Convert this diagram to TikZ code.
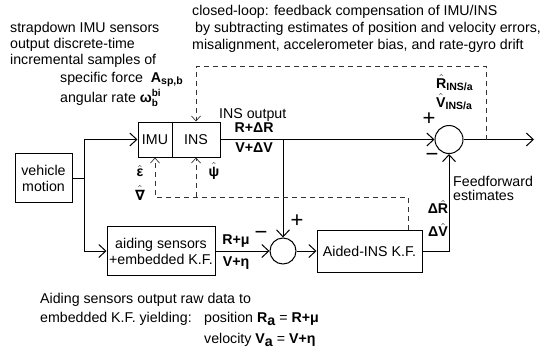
\documentclass[tikz,border=0pt]{standalone}
\usepackage{amsmath}
\usepackage{fontspec}
\setmainfont{Liberation Sans}
\newfontfamily\dvs{DejaVu Sans}
\usetikzlibrary{arrows.meta}
\newcommand\bh[1]{$\hat{\text{\bfseries #1}}$}
\newcommand\bsub[2]{\textbf{#1}\textsubscript{\bfseries\fontsize{10.5}{10.5}\selectfont #2}}
\begin{document}
\begin{tikzpicture}[x=1pt,y=-1pt,
  every node/.style={font=\fontsize{14.2}{16}\selectfont, inner sep=0pt},
  blk/.style={draw, line width=1pt, align=center},
  sum/.style={draw, circle, line width=1pt, inner sep=0pt},
  arr/.style={line width=1pt, -{Straight Barb[length=7pt,width=13pt]}},
  ln/.style={line width=1pt},
  darr/.style={line width=0.7pt, dash pattern=on 5pt off 4pt, draw=black!80, -{Straight Barb[length=5pt,width=9pt]}},
  sgn/.style={font=\fontsize{22}{22}\selectfont}]
\useasboundingbox[fill=white] (0,0) rectangle (548,351);

% blocks
\node[blk, minimum width=57pt, minimum height=49pt] (veh) at (43.5,178) {vehicle\\motion};
\node[blk, minimum width=34pt, minimum height=35pt] (IMU) at (155,139.5) {IMU};
\node[blk, minimum width=48pt, minimum height=35pt] (INS) at (196,139.5) {INS};
\node[blk, minimum width=108pt, minimum height=49pt] (aid) at (161,251) {aiding sensors\\+embedded K.F.};
\node[blk, minimum width=105pt, minimum height=42pt] (kf) at (369.5,251) {Aided-INS K.F.};
\node[sum, minimum size=26pt] (s1) at (283,251) {};
\node[sum, minimum size=28pt] (s2) at (449,139.5) {};

% coordinates
\coordinate (j) at (84,178);
\coordinate (out) at (534,139.5);
\coordinate (t1) at (283,139.5);
\coordinate (t2) at (486,139.5);
\coordinate (fbTR) at (486,66);
\coordinate (fb1) at (408,197);

% solid connectors
\draw[ln] (veh.east) -- (j);
\draw[arr] (j) |- (IMU.west);
\draw[arr] (j) |- (aid.west);
\draw[arr] (INS.east) -- (s2.west);
\draw[arr] (s2.east) -- (out);
\draw[arr] (t1) -- (s1.north);
\draw[arr] (aid.east) -- (s1.west);
\draw[arr] (s1.east) -- (kf.west);
\draw[arr] (kf.east) -| (s2.south);

% dashed feedback
\draw[darr] (t2) -- (fbTR) -| (INS.north);
\draw[darr] (fb1 |- kf.north) -- (fb1) -| (IMU.south);
\draw[darr] (fb1 -| INS.south) -- (INS.south);

% signs
\node[sgn] (p1) at (297,221) {+};
\node[sgn] (m1) at (261,235) {−};
\node[sgn] (p2) at (429,119) {+};
\node[sgn] (m2) at (432,157) {−};

% labels
\node[anchor=base west] (c1) at (192,15) {closed-loop: feedback compensation of IMU/INS};
\node[anchor=base west] (c2) at (195,32) {by subtracting estimates of position and velocity errors,};
\node[anchor=base west] (c3) at (192,49) {misalignment, accelerometer bias, and rate-gyro drift};

\node[anchor=base west] (a1) at (10,32) {strapdown IMU sensors};
\node[anchor=base west] (a2) at (10,48) {output discrete-time};
\node[anchor=base west] (a3) at (10,64) {incremental samples of};
\node[anchor=base west] (a4) at (60,82) {specific force\ \ \bsub{A}{sp,b}};
\node[anchor=base west] (a5) at (60,102) {angular rate $\text{\bfseries ω}_{\text{\bfseries b}}^{\text{\bfseries bi}}$};

\node[anchor=base west] (io) at (219,118) {INS output};
\node (l1) at (254,128) {\textbf{R+ΔR}};
\node (l2) at (254,148) {\textbf{V+ΔV}};
\node (l3) at (236,241) {\textbf{R+μ}};
\node (l4) at (236,263) {\textbf{V+η}};
\node (l5) at (140,171) {\bh{ε}};
\node (l6) at (140,193) {$\hat{\text{\dvs\bfseries ∇}}$};
\node (l7) at (214,171) {\bh{ψ}};
\node (l8) at (438,207) {\textbf{Δ}\bh{R}};
\node (l9) at (438,230) {\textbf{Δ}\bh{V}};
\node[anchor=base west] (l10) at (436,88) {\bh{R}\textsubscript{\bfseries\fontsize{10.5}{10.5}\selectfont INS/a}};
\node[anchor=base west] (l11) at (436,107) {\bh{V}\textsubscript{\bfseries\fontsize{10.5}{10.5}\selectfont INS/a}};
\node[anchor=base west] (ff1) at (453,186) {Feedforward};
\node[anchor=base west] (ff2) at (453,200) {estimates};

\node[anchor=base west] (b1) at (40,303) {Aiding sensors output raw data to};
\node[anchor=base west] (b2) at (40,322) {embedded K.F. yielding:};
\node[anchor=base west] (b3) at (204,322) {position \textbf{R}\raisebox{-3pt}{\textbf{a}} = \textbf{R+μ}};
\node[anchor=base west] (b4) at (204,343) {velocity \textbf{V}\raisebox{-3pt}{\textbf{a}} = \textbf{V+η}};
\end{tikzpicture}
\end{document}
